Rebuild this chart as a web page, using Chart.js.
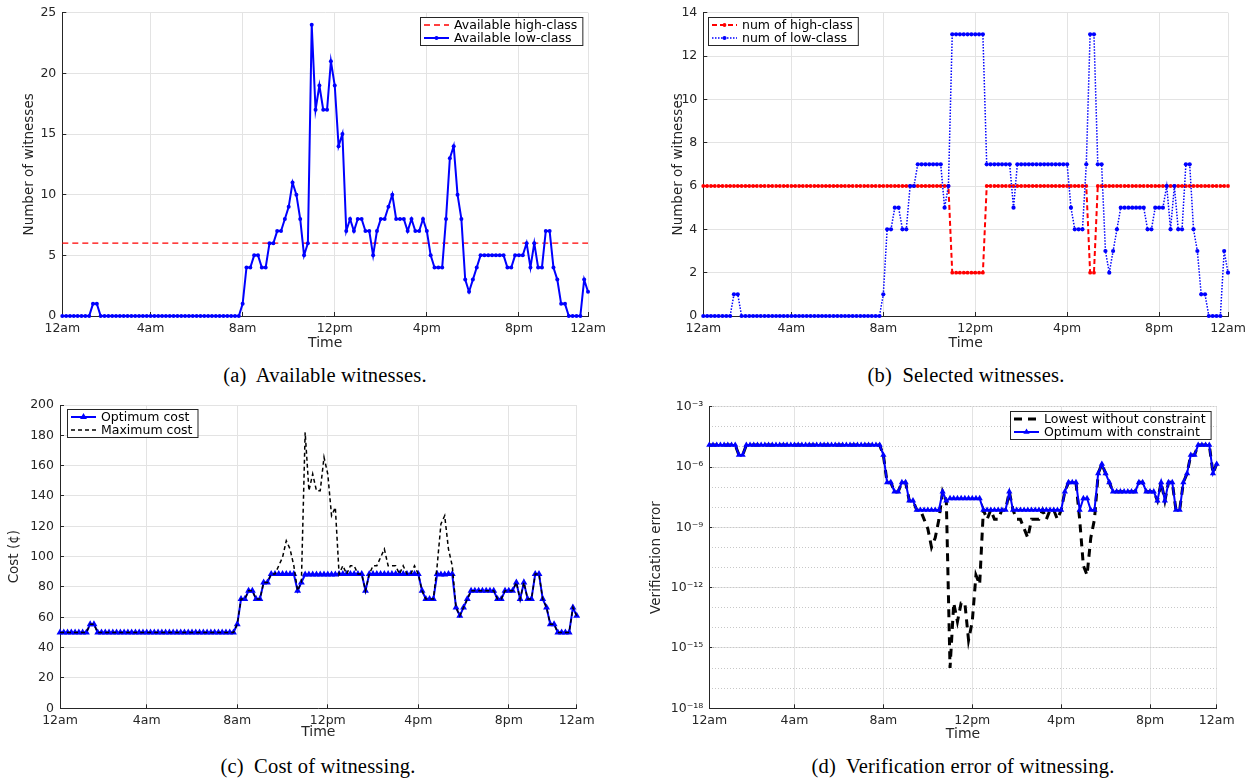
<!DOCTYPE html>
<html>
<head>
<meta charset="utf-8">
<script src="https://cdn.jsdelivr.net/npm/chart.js@4.4.1/dist/chart.umd.min.js"></script>
<style>
  body { margin: 0; width: 1258px; height: 783px; position: relative; overflow: hidden; background: #fff; }
  canvas { position: absolute; }
  .cap { position: absolute; transform: translateX(-50%); white-space: nowrap; color: #000;
         font-family: 'Liberation Serif', 'Times New Roman', serif; font-size: 20.5px; line-height: 20px; letter-spacing: .2px; }
  .cap span { margin-right: 5px; }
</style>
</head>
<body>
<canvas id="ca" width="629" height="356" style="left:0;top:0"></canvas>
<canvas id="cb" width="618" height="356" style="left:640px;top:0"></canvas>
<canvas id="cc" width="629" height="356" style="left:0;top:390px"></canvas>
<canvas id="cd" width="618" height="356" style="left:640px;top:390px"></canvas>
<div class="cap" style="left:325px;top:365px"><span>(a)</span> Available witnesses.</div>
<div class="cap" style="left:966px;top:365px"><span>(b)</span> Selected witnesses.</div>
<div class="cap" style="left:318px;top:756px"><span>(c)</span> Cost of witnessing.</div>
<div class="cap" style="left:963px;top:756px"><span>(d)</span> Verification error of witnessing.</div>
<script>
// 10-minute slots 1..138, ticks every 4 hours
const timeLabels = ['12am', '4am', '8am', '12pm', '4pm', '8pm', '12am'];
const tickSlots = [1, 24, 48, 72, 96, 120, 138];

// (a) available witnesses
const availHigh = [
  6,6,6,6,6,6,6,6,6,6, 6,6,6,6,6,6,6,6,6,6, 6,6,6,6,6,6,6,6,6,6, 6,6,6,6,6,6,6,6,6,6,
  6,6,6,6,6,6,6,6,6,6, 6,6,6,6,6,6,6,6,6,6, 6,6,6,6,6,6,6,6,6,6, 6,6,6,6,6,6,6,6,6,6,
  6,6,6,6,6,6,6,6,6,6, 6,6,6,6,6,6,6,6,6,6, 6,6,6,6,6,6,6,6,6,6, 6,6,6,6,6,6,6,6,6,6,
  6,6,6,6,6,6,6,6,6,6, 6,6,6,6,6,6,6,6
];
const availLow = [
  0,0,0,0,0,0,0,0,1,1, 0,0,0,0,0,0,0,0,0,0, 0,0,0,0,0,0,0,0,0,0, 0,0,0,0,0,0,0,0,0,0,
  0,0,0,0,0,0,0,1,4,4, 5,5,4,4,6,6,7,7,8,9, 11,10,8,5,6,24,17,19,17,17, 21,19,14,15,7,8,7,8,8,7,
  7,5,7,8,8,9,10,8,8,8, 7,8,7,7,8,7,5,4,4,4, 8,13,14,10,8,3,2,3,4,5, 5,5,5,5,5,5,4,4,5,5,
  5,6,4,6,4,4,7,7,4,3, 1,1,0,0,0,0,3,2
];

// (b) selected witnesses
const selHigh = [
  6,6,6,6,6,6,6,6,6,6, 6,6,6,6,6,6,6,6,6,6, 6,6,6,6,6,6,6,6,6,6, 6,6,6,6,6,6,6,6,6,6,
  6,6,6,6,6,6,6,6,6,6, 6,6,6,6,6,6,6,6,6,6, 6,6,6,6,6,2,2,2,2,2, 2,2,2,2,6,6,6,6,6,6,
  6,6,6,6,6,6,6,6,6,6, 6,6,6,6,6,6,6,6,6,6, 6,2,2,6,6,6,6,6,6,6, 6,6,6,6,6,6,6,6,6,6,
  6,6,6,6,6,6,6,6,6,6, 6,6,6,6,6,6,6,6
];
const selLow = [
  0,0,0,0,0,0,0,0,1,1, 0,0,0,0,0,0,0,0,0,0, 0,0,0,0,0,0,0,0,0,0, 0,0,0,0,0,0,0,0,0,0,
  0,0,0,0,0,0,0,1,4,4, 5,5,4,4,6,6,7,7,7,7, 7,7,7,5,6,13,13,13,13,13, 13,13,13,13,7,7,7,7,7,7,
  7,5,7,7,7,7,7,7,7,7, 7,7,7,7,7,7,5,4,4,4, 7,13,13,7,7,3,2,3,4,5, 5,5,5,5,5,5,4,4,5,5,
  5,6,4,6,4,4,7,7,4,3, 1,1,0,0,0,0,3,2
];

// (c) cost
const optCost = [
  50,50,50,50,50,50,50,50,55.5,55.5, 50,50,50,50,50,50,50,50,50,50, 50,50,50,50,50,50,50,50,50,50,
  50,50,50,50,50,50,50,50,50,50, 50,50,50,50,50,50,50,55.5,72,72,
  77.5,77.5,72,72,83,83,88.5,88.5,88.5,88.5, 88.5,88.5,88.5,77.5,83,88.2,88.2,88.2,88.2,88.2,
  88.2,88.2,88.2,88.2,88.5,88.5,88.5,88.5,88.5,88.5, 88.5,77.5,88.5,88.5,88.5,88.5,88.5,88.5,88.5,88.5,
  88.5,88.5,88.5,88.5,88.5,88.5,77.5,72,72,72, 88.5,88.2,88.2,88.5,88.5,66.5,61,66.5,72,77.5,
  77.5,77.5,77.5,77.5,77.5,77.5,72,72,77.5,77.5, 77.5,83,72,83,72,72,88.5,88.5,72,66.5,
  55.5,55.5,50,50,50,50,66.5,61
];
const maxCost = [
  50,50,50,50,50,50,50,50,55.5,55.5, 50,50,50,50,50,50,50,50,50,50, 50,50,50,50,50,50,50,50,50,50,
  50,50,50,50,50,50,50,50,50,50, 50,50,50,50,50,50,50,55.5,72,72,
  77.5,77.5,72,72,83,83,88.5,88.5,94,99.5, 110.5,105,94,77.5,83,182,143.5,154.5,143.5,143.5,
  165.5,154.5,127,132.5,88.5,94,88.5,94,94,88.5, 88.5,77.5,88.5,94,94,99.5,105,94,94,94,
  88.5,94,88.5,88.5,94,88.5,77.5,72,72,72, 94,121.5,127,105,94,66.5,61,66.5,72,77.5,
  77.5,77.5,77.5,77.5,77.5,77.5,72,72,77.5,77.5, 77.5,83,72,83,72,72,88.5,88.5,72,66.5,
  55.5,55.5,50,50,50,50,66.5,61
];

// (d) verification error
const lowErr = [
  1.24e-5,1.24e-5,1.24e-5,1.24e-5,1.24e-5,1.24e-5,1.24e-5,1.24e-5,3.95e-6,3.95e-6,
  1.24e-5,1.24e-5,1.24e-5,1.24e-5,1.24e-5,1.24e-5,1.24e-5,1.24e-5,1.24e-5,1.24e-5,
  1.24e-5,1.24e-5,1.24e-5,1.24e-5,1.24e-5,1.24e-5,1.24e-5,1.24e-5,1.24e-5,1.24e-5,
  1.24e-5,1.24e-5,1.24e-5,1.24e-5,1.24e-5,1.24e-5,1.24e-5,1.24e-5,1.24e-5,1.24e-5,
  1.24e-5,1.24e-5,1.24e-5,1.24e-5,1.24e-5,1.24e-5,1.24e-5,3.95e-6,1.73e-7,1.73e-7,
  5.93e-8,5.93e-8,1.73e-7,1.73e-7,2.11e-8,2.11e-8,7.28e-9,7.28e-9,2.5e-9,8.6e-10,
  1.03e-10,3.0e-10,2.5e-9,5.93e-8,2.11e-8,1.01e-16,1.74e-13,2.07e-14,1.74e-13,1.74e-13,
  2.47e-15,2.07e-14,4.2e-12,1.46e-12,7.28e-9,2.5e-9,7.28e-9,2.5e-9,2.5e-9,7.28e-9,
  7.28e-9,5.93e-8,7.28e-9,2.5e-9,2.5e-9,8.6e-10,3.0e-10,2.5e-9,2.5e-9,2.5e-9,
  7.28e-9,2.5e-9,7.28e-9,7.28e-9,2.5e-9,7.28e-9,5.93e-8,1.73e-7,1.73e-7,1.73e-7,
  2.5e-9,1.23e-11,4.2e-12,3.0e-10,2.5e-9,4.84e-7,1.41e-6,4.84e-7,1.73e-7,5.93e-8,
  5.93e-8,5.93e-8,5.93e-8,5.93e-8,5.93e-8,5.93e-8,1.73e-7,1.73e-7,5.93e-8,5.93e-8,
  5.93e-8,2.11e-8,1.73e-7,2.11e-8,1.73e-7,1.73e-7,7.28e-9,7.28e-9,1.73e-7,4.84e-7,
  3.95e-6,3.95e-6,1.24e-5,1.24e-5,1.24e-5,1.24e-5,4.84e-7,1.41e-6
];
const optErr = [
  1.24e-5,1.24e-5,1.24e-5,1.24e-5,1.24e-5,1.24e-5,1.24e-5,1.24e-5,3.95e-6,3.95e-6,
  1.24e-5,1.24e-5,1.24e-5,1.24e-5,1.24e-5,1.24e-5,1.24e-5,1.24e-5,1.24e-5,1.24e-5,
  1.24e-5,1.24e-5,1.24e-5,1.24e-5,1.24e-5,1.24e-5,1.24e-5,1.24e-5,1.24e-5,1.24e-5,
  1.24e-5,1.24e-5,1.24e-5,1.24e-5,1.24e-5,1.24e-5,1.24e-5,1.24e-5,1.24e-5,1.24e-5,
  1.24e-5,1.24e-5,1.24e-5,1.24e-5,1.24e-5,1.24e-5,1.24e-5,3.95e-6,1.73e-7,1.73e-7,
  5.93e-8,5.93e-8,1.73e-7,1.73e-7,2.11e-8,2.11e-8,7.28e-9,7.28e-9,7.28e-9,7.28e-9,
  7.28e-9,7.28e-9,7.28e-9,5.93e-8,2.11e-8,2.75e-8,2.75e-8,2.75e-8,2.75e-8,2.75e-8,
  2.75e-8,2.75e-8,2.75e-8,2.75e-8,7.28e-9,7.28e-9,7.28e-9,7.28e-9,7.28e-9,7.28e-9,
  7.28e-9,5.93e-8,7.28e-9,7.28e-9,7.28e-9,7.28e-9,7.28e-9,7.28e-9,7.28e-9,7.28e-9,
  7.28e-9,7.28e-9,7.28e-9,7.28e-9,7.28e-9,7.28e-9,5.93e-8,1.73e-7,1.73e-7,1.73e-7,
  7.28e-9,2.75e-8,2.75e-8,7.28e-9,7.28e-9,4.84e-7,1.41e-6,4.84e-7,1.73e-7,5.93e-8,
  5.93e-8,5.93e-8,5.93e-8,5.93e-8,5.93e-8,5.93e-8,1.73e-7,1.73e-7,5.93e-8,5.93e-8,
  5.93e-8,2.11e-8,1.73e-7,2.11e-8,1.73e-7,1.73e-7,7.28e-9,7.28e-9,1.73e-7,4.84e-7,
  3.95e-6,3.95e-6,1.24e-5,1.24e-5,1.24e-5,1.24e-5,4.84e-7,1.41e-6
];
const errTicks = [1e-18, 1e-15, 1e-12, 1e-9, 1e-6, 1e-3];
const errLabels = ['10⁻¹⁸', '10⁻¹⁵', '10⁻¹²', '10⁻⁹', '10⁻⁶', '10⁻³'];
const decadeTicks = [1e-18, 1e-17, 1e-16, 1e-15, 1e-14, 1e-13, 1e-12, 1e-11, 1e-10,
                     1e-9, 1e-8, 1e-7, 1e-6, 1e-5, 1e-4, 1e-3];

const FONT = "'DejaVu Sans', 'Liberation Sans', sans-serif";
const gridColor = '#e3e3e3';
const axisColor = '#262626';
Chart.defaults.font.family = FONT;
Chart.defaults.font.size = 12.5;
Chart.defaults.color = axisColor;

const pts = arr => arr.map((v, k) => ({ x: k + 1, y: v }));

function mark(ctx, style, x, y, r, color) {
  ctx.fillStyle = color;
  ctx.beginPath();
  if (style === 'triangle') {
    ctx.moveTo(x, y - r);
    ctx.lineTo(x + r * 0.866, y + r * 0.5);
    ctx.lineTo(x - r * 0.866, y + r * 0.5);
    ctx.closePath();
  } else {
    ctx.arc(x, y, r, 0, Math.PI * 2);
  }
  ctx.fill();
}

// MATLAB-like boxed legend inside the axes
const boxLegend = {
  id: 'boxLegend',
  afterDraw(chart, args, o) {
    if (!o.side) return;
    const { ctx, chartArea: a } = chart;
    const sets = chart.data.datasets;
    ctx.save();
    ctx.font = '12.5px ' + FONT;
    const tw = Math.max(...sets.map(d => ctx.measureText(d.label).width));
    const w = 34 + tw + 5, h = 28;
    const x = Math.round(o.side === 'right' ? a.right - o.dx - w : a.left + o.dx);
    const y = Math.round(a.top + o.dy);
    ctx.fillStyle = '#fff';
    ctx.fillRect(x, y, w, h);
    ctx.strokeStyle = axisColor;
    ctx.lineWidth = 1;
    ctx.strokeRect(x + 0.5, y + 0.5, w, h);
    sets.forEach((d, k) => {
      const ry = y + 8 + k * 13;
      ctx.strokeStyle = d.borderColor;
      ctx.lineWidth = d.borderWidth;
      ctx.setLineDash(d.borderDash || []);
      ctx.beginPath();
      ctx.moveTo(x + 4, ry);
      ctx.lineTo(x + 29, ry);
      ctx.stroke();
      ctx.setLineDash([]);
      if (d.pointRadius) mark(ctx, d.pointStyle, x + 16.5, ry, d.pointRadius, d.borderColor);
      ctx.fillStyle = '#000';
      ctx.textBaseline = 'middle';
      ctx.fillText(d.label, x + 34, ry + 0.5);
    });
    ctx.restore();
  }
};

// small inward tick marks like MATLAB axes
const tickGrid = { color: gridColor, drawTicks: true, tickLength: -4, tickColor: axisColor, tickWidth: 1 };

function timeAxis(h, padBottom) {
  return {
    type: 'linear', min: 1, max: 138,
    afterBuildTicks: ax => { ax.ticks = tickSlots.map(v => ({ value: v })); },
    afterFit: ax => { ax.height = h; },
    ticks: { autoSkip: false, maxRotation: 0, padding: 9, callback: (v, i) => timeLabels[i] },
    grid: tickGrid,
    border: { color: axisColor },
    title: { display: true, text: 'Time', font: { size: 14 }, padding: { top: 0, bottom: padBottom } }
  };
}

function valueAxis(w, title, extra) {
  return Object.assign({
    // fixed width; keep the label overhang from pushing the plot area down
    afterFit: ax => { ax.width = w; ax.paddingTop = 6; ax.paddingBottom = 6; },
    grid: tickGrid,
    border: { color: axisColor },
    title: { display: true, text: title, font: { size: 13.5 }, padding: 0 }
  }, extra);
}

function makeChart(id, datasets, scales, pad, legend) {
  return new Chart(document.getElementById(id), {
    type: 'line',
    data: { datasets },
    options: {
      responsive: false,
      animation: false,
      devicePixelRatio: 1,
      layout: { padding: pad },
      plugins: { legend: { display: false }, tooltip: { enabled: false }, boxLegend: legend },
      elements: { line: { tension: 0 } },
      scales
    },
    plugins: [boxLegend]
  });
}

// (a)
makeChart('ca', [
  { label: 'Available high-class', data: pts(availHigh), borderColor: '#ff0000', borderWidth: 1.3,
    borderDash: [6, 4], pointRadius: 0, order: 1, clip: false },
  { label: 'Available low-class', data: pts(availLow), borderColor: '#0000ff', backgroundColor: '#0000ff',
    borderWidth: 2, pointRadius: 2, pointBorderWidth: 0, pointStyle: 'circle', order: 0, clip: false }
], {
  x: timeAxis(40, 4.6),
  y: valueAxis(40.7, 'Number of witnesses', { min: 0, max: 25, ticks: { stepSize: 5, padding: 10 } })
}, { left: 21.6, top: 12.7, right: 41, bottom: 0 }, { side: 'right', dx: 6, dy: 4.6 });

// (b)
makeChart('cb', [
  { label: 'num of high-class', data: pts(selHigh), borderColor: '#ff0000', backgroundColor: '#ff0000',
    borderWidth: 2, borderDash: [5, 3], pointRadius: 1.9, pointBorderWidth: 0, order: 1, clip: false },
  { label: 'num of low-class', data: pts(selLow), borderColor: '#0000ff', backgroundColor: '#0000ff',
    borderWidth: 1.5, borderDash: [1.5, 1.5], pointRadius: 2.1, pointBorderWidth: 0, order: 0, clip: false }
], {
  x: timeAxis(40, 4.6),
  y: valueAxis(33, 'Number of witnesses', { min: 0, max: 14, ticks: { stepSize: 2, padding: 10 } })
}, { left: 30.3, top: 12.7, right: 30, bottom: 0 }, { side: 'left', dx: 5, dy: 4 });

// (c)
makeChart('cc', [
  { label: 'Optimum cost', data: pts(optCost), borderColor: '#0000ff', backgroundColor: '#0000ff',
    borderWidth: 2, pointRadius: 4, pointStyle: 'triangle', pointBorderWidth: 0, order: 1, clip: false },
  { label: 'Maximum cost', data: pts(maxCost), borderColor: '#000000', borderWidth: 1.5,
    borderDash: [4, 3], pointRadius: 0, order: 0, clip: false }
], {
  x: timeAxis(37.7, 5.6),
  y: valueAxis(53.4, 'Cost (¢)', { min: 0, max: 200, ticks: { stepSize: 20, padding: 10 } })
}, { left: 6.6, top: 15, right: 52.3, bottom: 0 }, { side: 'left', dx: 6.7, dy: 4 });

// (d)
makeChart('cd', [
  { label: 'Lowest without constraint', data: pts(lowErr), borderColor: '#000000', borderWidth: 3,
    borderDash: [8, 6], pointRadius: 0, order: 1, clip: false },
  { label: 'Optimum with constraint', data: pts(optErr), borderColor: '#0000ff', backgroundColor: '#0000ff',
    borderWidth: 2, pointRadius: 3.6, pointStyle: 'triangle', pointBorderWidth: 0, order: 0, clip: false }
], {
  x: timeAxis(37.7, 3.6),
  y: valueAxis(61, 'Verification error', {
    type: 'logarithmic', min: 1e-18, max: 1e-3,
    afterBuildTicks: ax => { ax.ticks = errTicks.map(v => ({ value: v })); },
    ticks: { padding: 10, callback: (v, i) => errLabels[i] }
  }),
  y2: {
    type: 'logarithmic', position: 'left', min: 1e-18, max: 1e-3,
    afterBuildTicks: ax => { ax.ticks = decadeTicks.map(v => ({ value: v })); },
    afterFit: ax => { ax.width = 0; ax.paddingTop = 0; ax.paddingBottom = 0; },
    ticks: { display: false },
    grid: { color: '#c8c8c8', drawTicks: false },
    border: { display: false, dash: [1, 2] }
  }
}, { left: 8.3, top: 16.7, right: 41.3, bottom: 0 }, { side: 'right', dx: 6, dy: 4.3 });
</script>
</body>
</html>
